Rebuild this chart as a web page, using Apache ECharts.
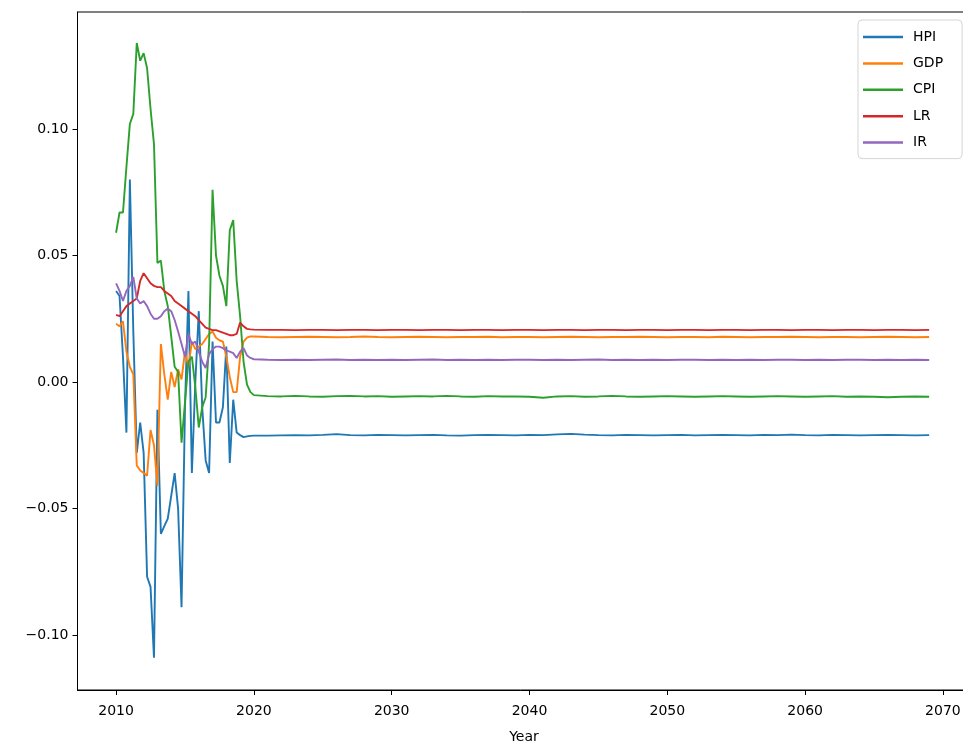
<!DOCTYPE html>
<html>
<head>
<meta charset="utf-8">
<script src="https://cdn.jsdelivr.net/npm/echarts@6/dist/echarts.min.js"></script>
<style>html,body{margin:0;padding:0;background:#fff}#c{width:963px;height:744px}</style>
</head>
<body>
<div id="c"></div>
<script>
// x positions: quarterly 2010.00-2019.75, then yearly 2020-2069
var years = [];
for (var i = 0; i < 40; i++) years.push(2010 + i * 0.25);
for (var y = 2020; y <= 2069; y++) years.push(y);

var xTicks = [2010, 2020, 2030, 2040, 2050, 2060, 2070];
var yTicks = [-0.10, -0.05, 0.00, 0.05, 0.10];
var seriesNames = ['HPI', 'GDP', 'CPI', 'LR', 'IR'];

var hpi = [
  0.036, 0.034, 0.010, -0.020, 0.080, 0.020, -0.028, -0.016, -0.028, -0.077,
  -0.081, -0.109, -0.011, -0.060, -0.057, -0.054, -0.045, -0.036, -0.050, -0.089,
  -0.010, 0.036, -0.036, 0.000, 0.028, -0.010, -0.031, -0.036, 0.016, -0.016,
  -0.016, -0.010, 0.014, -0.032, -0.007, -0.020, -0.021, -0.0218, -0.0215, -0.0213,
  -0.0212, -0.0212, -0.0211, -0.0210, -0.0211, -0.0209, -0.0206, -0.0210, -0.0211, -0.0209,
  -0.0210, -0.0211, -0.0210, -0.0209, -0.0211, -0.0212, -0.0210, -0.0209, -0.0210, -0.0211,
  -0.0209, -0.0210, -0.0207, -0.0205, -0.0208, -0.0210, -0.0211, -0.0209, -0.0210, -0.0211,
  -0.0210, -0.0209, -0.0211, -0.0210, -0.0209, -0.0210, -0.0211, -0.0209, -0.0210, -0.0208,
  -0.0210, -0.0211, -0.0209, -0.0210, -0.0211, -0.0210, -0.0209, -0.0210, -0.0211, -0.0210
];
var gdp = [
  0.023, 0.022, 0.024, 0.012, 0.006, 0.003, -0.033, -0.035, -0.036, -0.037,
  -0.019, -0.025, -0.041, 0.015, 0.003, -0.007, 0.004, -0.002, 0.005, 0.001,
  0.012, 0.006, 0.016, 0.013, 0.014, 0.015, 0.017, 0.019, 0.020, 0.0175,
  0.0165, 0.016, 0.010, 0.002, -0.004, -0.004, 0.010, 0.016, 0.0175, 0.018,
  0.0180, 0.0178, 0.0177, 0.0178, 0.0179, 0.0178, 0.0177, 0.0178, 0.0180, 0.0178,
  0.0177, 0.0178, 0.0179, 0.0178, 0.0177, 0.0178, 0.0178, 0.0179, 0.0177, 0.0178,
  0.0178, 0.0177, 0.0178, 0.0179, 0.0178, 0.0177, 0.0178, 0.0178, 0.0179, 0.0178,
  0.0177, 0.0178, 0.0178, 0.0177, 0.0179, 0.0178, 0.0177, 0.0178, 0.0178, 0.0179,
  0.0178, 0.0177, 0.0178, 0.0178, 0.0177, 0.0178, 0.0179, 0.0178, 0.0177, 0.0178
];
var cpi = [
  0.059, 0.067, 0.067, 0.085, 0.102, 0.106, 0.134, 0.127, 0.130, 0.124,
  0.108, 0.094, 0.047, 0.048, 0.036, 0.030, 0.018, 0.006, 0.004, -0.024,
  -0.008, 0.008, 0.010, -0.002, -0.018, -0.010, -0.006, 0.015, 0.076, 0.050,
  0.042, 0.038, 0.030, 0.060, 0.064, 0.040, 0.026, 0.008, -0.001, -0.004,
  -0.0052, -0.0056, -0.0057, -0.0055, -0.0057, -0.0058, -0.0056, -0.0055, -0.0057, -0.0056,
  -0.0058, -0.0057, -0.0056, -0.0057, -0.0055, -0.0057, -0.0058, -0.0056, -0.0057, -0.0057,
  -0.0058, -0.0062, -0.0057, -0.0056, -0.0058, -0.0057, -0.0055, -0.0057, -0.0058, -0.0057,
  -0.0056, -0.0057, -0.0058, -0.0057, -0.0056, -0.0057, -0.0058, -0.0057, -0.0056, -0.0057,
  -0.0058, -0.0057, -0.0056, -0.0058, -0.0057, -0.0058, -0.0060, -0.0058, -0.0057, -0.0058
];
var lr = [
  0.0265, 0.026, 0.028, 0.030, 0.031, 0.032, 0.033, 0.040, 0.043, 0.041,
  0.039, 0.038, 0.0375, 0.0375, 0.036, 0.035, 0.034, 0.032, 0.031, 0.030,
  0.029, 0.028, 0.027, 0.026, 0.0245, 0.023, 0.0215, 0.021, 0.0205, 0.0205,
  0.020, 0.0195, 0.019, 0.0185, 0.0185, 0.019, 0.0235, 0.022, 0.021, 0.0208,
  0.0207, 0.0206, 0.0206, 0.0205, 0.0206, 0.0206, 0.0205, 0.0206, 0.0206, 0.0205,
  0.0206, 0.0206, 0.0205, 0.0206, 0.0206, 0.0205, 0.0206, 0.0206, 0.0205, 0.0206,
  0.0206, 0.0205, 0.0206, 0.0206, 0.0205, 0.0206, 0.0206, 0.0205, 0.0206, 0.0206,
  0.0205, 0.0206, 0.0206, 0.0205, 0.0206, 0.0206, 0.0205, 0.0206, 0.0206, 0.0205,
  0.0206, 0.0206, 0.0205, 0.0206, 0.0206, 0.0205, 0.0206, 0.0206, 0.0205, 0.0206
];
var ir = [
  0.039, 0.036, 0.032, 0.036, 0.038, 0.0415, 0.033, 0.031, 0.032, 0.030,
  0.027, 0.025, 0.025, 0.026, 0.028, 0.029, 0.028, 0.0245, 0.020, 0.015,
  0.010, 0.019, 0.015, 0.016, 0.012, 0.008, 0.0055, 0.011, 0.013, 0.014,
  0.014, 0.0134, 0.0125, 0.012, 0.0114, 0.0095, 0.012, 0.0134, 0.0105, 0.0095,
  0.0090, 0.0088, 0.0087, 0.0088, 0.0087, 0.0088, 0.0089, 0.0087, 0.0088, 0.0087,
  0.0088, 0.0087, 0.0088, 0.0089, 0.0087, 0.0088, 0.0087, 0.0088, 0.0087, 0.0088,
  0.0088, 0.0087, 0.0088, 0.0087, 0.0088, 0.0089, 0.0087, 0.0088, 0.0087, 0.0088,
  0.0087, 0.0088, 0.0088, 0.0087, 0.0088, 0.0087, 0.0088, 0.0087, 0.0088, 0.0088,
  0.0087, 0.0088, 0.0087, 0.0088, 0.0088, 0.0087, 0.0088, 0.0087, 0.0088, 0.0087
];

var colors = ['#1f77b4', '#ff7f0e', '#2ca02c', '#d62728', '#9467bd'];
var valueLists = [hpi, gdp, cpi, lr, ir];

function pairs(vals) {
  return years.map(function (x, i) { return [x, vals[i]]; });
}

var font = '"DejaVu Sans", sans-serif';
var chart = echarts.init(document.getElementById('c'), null, { renderer: 'canvas' });
chart.setOption({
  animation: false,
  backgroundColor: '#fff',
  grid: {
    left: 77.5, top: 12, width: 893, height: 678,
    containLabel: false, outerBoundsMode: 'none',
    show: true, borderColor: '#000', borderWidth: 1, backgroundColor: 'transparent'
  },
  legend: {
    orient: 'vertical',
    left: 858, top: 20,
    data: seriesNames,
    icon: 'rect',
    itemWidth: 40, itemHeight: 2.5,
    itemGap: 12.4,
    padding: [10, 19, 9, 5],
    backgroundColor: '#fff',
    borderColor: '#d5d5d5', borderWidth: 1, borderRadius: 4,
    textStyle: { fontFamily: font, fontSize: 14, color: '#000', lineHeight: 14, padding: [0, 0, 0, 5] }
  },
  xAxis: {
    type: 'value', min: 2007.2, max: 2072,
    name: 'Year', nameLocation: 'middle', nameGap: 40,
    nameTextStyle: { fontFamily: font, fontSize: 14, color: '#000' },
    axisLine: { show: true, onZero: false, lineStyle: { color: '#000', width: 1 } },
    axisTick: { show: true, length: 5, lineStyle: { color: '#000' }, customValues: xTicks },
    axisLabel: { fontFamily: font, fontSize: 14, color: '#000', margin: 14, customValues: xTicks,
      formatter: function (v) { return String(Math.round(v)); } },
    splitLine: { show: false }
  },
  yAxis: {
    type: 'value', min: -0.12174, max: 0.14625,
    axisLine: { show: true, onZero: false, lineStyle: { color: '#000', width: 1 } },
    axisTick: { show: true, length: 5, lineStyle: { color: '#000' }, customValues: yTicks },
    axisLabel: { fontFamily: font, fontSize: 14, color: '#000', margin: 9, customValues: yTicks,
      formatter: function (v) { var s = Math.abs(v).toFixed(2); return v < -1e-9 ? '\u2212' + s : s; } },
    splitLine: { show: false }
  },
  series: seriesNames.map(function (n, k) {
    return {
      name: n, type: 'line', data: pairs(valueLists[k]),
      showSymbol: false, symbol: 'none',
      lineStyle: { color: colors[k], width: 1.9 },
      itemStyle: { color: colors[k] },
      z: 2 + k
    };
  })
});
</script>
</body>
</html>
